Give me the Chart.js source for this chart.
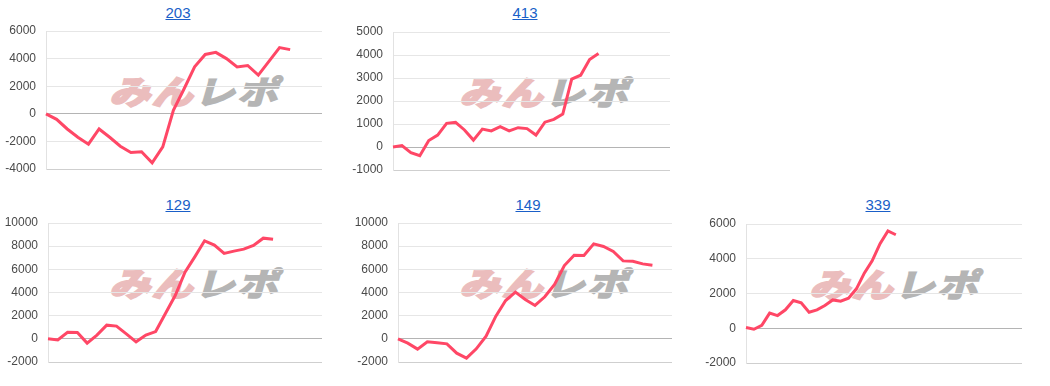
<!DOCTYPE html>
<html>
<head>
<meta charset="utf-8">
<script src="https://cdn.jsdelivr.net/npm/chart.js@4.4.0/dist/chart.umd.min.js"></script>
<style>
  html, body { margin: 0; padding: 0; background: #fff; }
  body { width: 1050px; height: 386px; position: relative; overflow: hidden; font-family: "Liberation Sans", Arial, sans-serif; }
  .ttl { position: absolute; width: 120px; margin-left: -60px; text-align: center; font-size: 15px; line-height: 18px; color: #1a5fc8; text-decoration: underline; }
  .wm { position: absolute; height: 34px; font-family: "Noto Sans CJK JP", sans-serif; font-weight: bold; font-size: 36px; line-height: 34px; white-space: nowrap; transform-origin: 0 0; transform: skewX(-16deg) scale(1.12, 0.9); letter-spacing: 2px; }
  .wm .a { color: #ebbdbd; -webkit-text-stroke: 3px #ebbdbd; }
  .wm .b { color: #b5b5b5; -webkit-text-stroke: 2px #b5b5b5; }
  canvas { position: absolute; }
</style>
</head>
<body>
<script>
/* Five small running-total line charts, Google-charts look. */
var LINE = "#ff4766";

var v203 = [0, -400, -1100, -1700, -2200, -1100, -1700, -2350, -2800, -2750, -3550, -2400, 250, 1800, 3400, 4300, 4450, 4000, 3400, 3500, 2800, 3800, 4800, 4650];
var v413 = [0, 60, -250, -380, 280, 520, 1030, 1070, 740, 300, 780, 700, 880, 700, 840, 800, 520, 1080, 1200, 1430, 2950, 3120, 3800, 4060];
var v129 = [0, -100, 570, 550, -370, 320, 1180, 1100, 430, -260, 320, 630, 2190, 3740, 5760, 7080, 8460, 8090, 7370, 7570, 7740, 8060, 8690, 8600];
var v149 = [0, -370, -890, -260, -340, -430, -1240, -1670, -860, 230, 1960, 3310, 4030, 3400, 2880, 3630, 4690, 6330, 7220, 7190, 8200, 7970, 7540, 6730, 6700, 6470, 6360];
var v339 = [40, -60, 170, 870, 730, 1060, 1600, 1460, 920, 1060, 1310, 1630, 1560, 1730, 2270, 3170, 3880, 4870, 5600, 5380];

var titles = ["203", "413", "129", "149", "339"];
var slots = [27, 32, 29, 29, 36];
var yMin = [-4000, -1000, -2000, -2000, -2000];
var yMax = [6000, 5000, 10000, 10000, 6000];
var yStep = [2000, 1000, 2000, 2000, 2000];
var series = [v203, v413, v129, v149, v339];

// cell x, plot left/right/top/bottom, title center x/y
var boxes = [
  { cx: 0,   l: 46,  r: 322,  t: 31,  b: 169, tx: 178, ty: 4 },
  { cx: 350, l: 393, r: 670,  t: 32,  b: 170, tx: 525, ty: 4 },
  { cx: 0,   l: 48,  r: 322,  t: 223, b: 362, tx: 178, ty: 196 },
  { cx: 350, l: 398, r: 672,  t: 223, b: 362, tx: 528, ty: 196 },
  { cx: 700, l: 746, r: 1022, t: 224, b: 363, tx: 878, ty: 196 }
];

Chart.defaults.font.family = "'Liberation Sans', Arial, sans-serif";
Chart.defaults.font.size = 12;
Chart.defaults.color = "#4a4a4a";

boxes.forEach(function (bx, i) {
  var a = document.createElement("a");
  a.className = "ttl";
  a.textContent = titles[i];
  a.style.left = bx.tx + "px";
  a.style.top = bx.ty + "px";
  document.body.appendChild(a);

  var wm = document.createElement("div");
  wm.className = "wm";
  wm.innerHTML = '<span class="a">みん</span><span class="b">レポ</span>';
  wm.style.left = (bx.cx + 118) + "px";
  wm.style.top = (bx.t + 43) + "px";
  document.body.appendChild(wm);

  var cv = document.createElement("canvas");
  var w = bx.r - bx.cx, h = bx.b - bx.t + 20;
  cv.width = w; cv.height = h;
  cv.style.left = bx.cx + "px";
  cv.style.top = (bx.t - 10) + "px";
  cv.style.width = w + "px"; cv.style.height = h + "px";
  document.body.appendChild(cv);

  var labels = Array.from({ length: slots[i] }, function (_, k) { return k + 1; });
  var yw = bx.l - bx.cx;
  var lo = yMin[i];

  new Chart(cv, {
    type: "line",
    data: { labels: labels, datasets: [{ data: series[i], borderColor: LINE, backgroundColor: LINE, borderWidth: 3, pointRadius: 0, tension: 0, clip: false }] },
    options: {
      responsive: false, animation: false, devicePixelRatio: 1,
      layout: { padding: { top: 10, bottom: 10, left: 0, right: 0 } },
      plugins: { legend: { display: false }, tooltip: { enabled: false } },
      scales: {
        x: { display: false, offset: false },
        y: {
          min: yMin[i], max: yMax[i],
          afterFit: function (s) { s.width = yw; s.paddingTop = 0; s.paddingBottom = 0; },
          border: { display: true, color: "#e2e2e2", width: 1 },
          grid: {
            drawTicks: false,
            color: function (c) { return c.tick.value === 0 ? "#b4b4b4" : (c.tick.value === lo ? "#cfcfcf" : "#e6e6e6"); }
          },
          ticks: { stepSize: yStep[i], padding: 10, color: "#4a4a4a", callback: function (v) { return String(v); } }
        }
      }
    }
  });
});
</script>
</body>
</html>
